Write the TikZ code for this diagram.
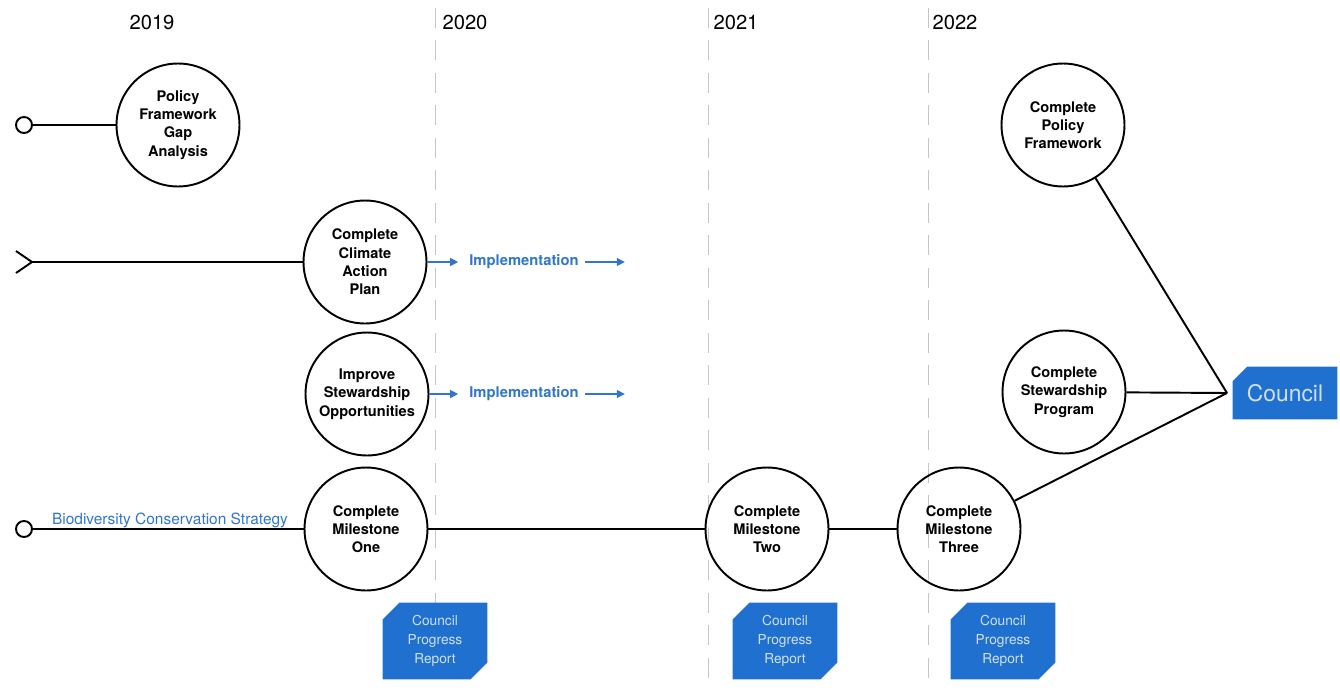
\documentclass[tikz,border=0pt]{standalone}
\usepackage{fontspec}
\setmainfont{TeX Gyre Heros}
\usetikzlibrary{arrows.meta,positioning,shapes.misc}
\definecolor{planblue}{RGB}{32,112,208}
\definecolor{labelblue}{RGB}{48,118,205}
\definecolor{paleblue}{RGB}{208,224,248}

\begin{document}
\begin{tikzpicture}[
   x=0.02cm, y=-0.02cm,
   node distance=2mm,
   goal/.style={circle, draw, line width=1.1pt, minimum size=2.46cm, inner sep=0pt, align=center, font=\bfseries\fontsize{8.3}{10.4}\selectfont},
   start/.style={circle, draw, line width=1.1pt, minimum size=3.2mm, inner sep=0pt},
   year/.style={font=\fontsize{11.5}{13}\selectfont},
   impl/.style={text=labelblue, font=\bfseries\fontsize{8.4}{10}\selectfont},
   strat/.style={text=labelblue, font=\fontsize{8.8}{10}\selectfont, inner sep=0pt, anchor=base},
   report/.style={chamfered rectangle, chamfered rectangle corners={north west, south east}, chamfered rectangle xsep=2.2mm,
      fill=planblue, text=paleblue, minimum width=2.1cm, minimum height=1.54cm, inner sep=0pt, align=center, font=\fontsize{7.8}{10.8}\selectfont},
   council/.style={chamfered rectangle, chamfered rectangle corners=north west, chamfered rectangle xsep=2mm,
      fill=planblue, text=paleblue, minimum width=2.1cm, minimum height=1.06cm, inner sep=0pt, font=\fontsize{13}{15}\selectfont},
   divider/.style={gray!45, line width=0.5pt, dash pattern=on 4mm off 2.5mm},
   link/.style={line width=1.1pt},
   ar/.style={-{Triangle[length=1.6mm, width=1.6mm]}, labelblue, line width=0.7pt}
]
\useasboundingbox (0,0) rectangle (1340,690);

\foreach \x in {435,708,928} \draw[divider] (\x,8) -- (\x,690);

\node[year] (y19) at (152,22) {2019};
\node[year] (y20) at (465,22) {2020};
\node[year] (y21) at (736,22) {2021};
\node[year] (y22) at (955,22) {2022};

\node[goal] (gap) at (178,125) {Policy\\Framework\\Gap\\Analysis};
\node[goal] (clim) at (365,262) {Complete\\Climate\\Action\\Plan};
\node[goal] (stew) at (367,394) {Improve\\Stewardship\\Opportunities};
\node[goal] (m1) at (366,529) {Complete\\Milestone\\One};
\node[goal] (m2) at (767,529) {Complete\\Milestone\\Two};
\node[goal] (m3) at (959,529) {Complete\\Milestone\\Three};
\node[goal] (pf) at (1063,125) {Complete\\Policy\\Framework};
\node[goal] (sp) at (1064,392) {Complete\\Stewardship\\Program};

\node[start] (s1) at (24,125) {};
\coordinate (s2) at (32,262);
\node[start] (s3) at (24,529) {};
\node[strat] (bcs) at (170,524) {Biodiversity Conservation Strategy};

\draw[link] (s1) -- (gap);
\draw[link] ([shift={(-16,-11)}]s2) -- (s2) -- ([shift={(-16,11)}]s2);
\draw[link] (s2) -- (clim);
\draw[link] (s3) -- (m1) -- (m2) -- (m3);

\node[impl] (imp1) at (524,262) {Implementation};
\node[impl] (imp2) at (524,394) {Implementation};
\coordinate[right=8mm of imp1.east] (imp1end);
\coordinate[right=8mm of imp2.east] (imp2end);
\draw[ar, shorten >=1mm] (clim) -- (imp1);
\draw[ar] (imp1) -- (imp1end);
\draw[ar, shorten >=1mm] (stew) -- (imp2);
\draw[ar] (imp2) -- (imp2end);

\node[report] (r1) at (435,641) {Council\\Progress\\Report};
\node[report] (r2) at (785,641) {Council\\Progress\\Report};
\node[report] (r3) at (1003,641) {Council\\Progress\\Report};

\coordinate (hub) at (1227,393);
\node[council] (cn) at (1285,393) {Council};
\draw[link] (pf) -- (hub);
\draw[link] (sp) -- (hub);
\draw[link] (m3) -- (hub);
\end{tikzpicture}
\end{document}
